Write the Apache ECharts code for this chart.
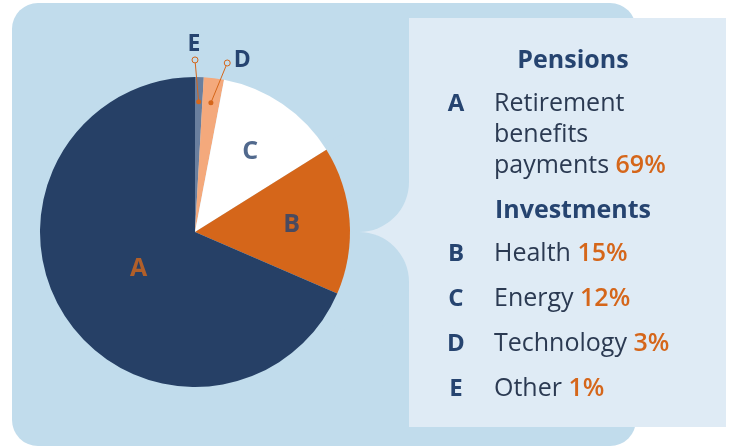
<!DOCTYPE html>
<html><head><meta charset="utf-8">
<script src="https://cdn.jsdelivr.net/npm/echarts@6/dist/echarts.min.js"></script>
<style>html,body{margin:0;padding:0;background:#fff}#c{width:731px;height:446px}</style>
</head><body><div id="c"></div>
<script>
// ---- data ----
const letters = ['A', 'B', 'C', 'D', 'E'];
const names = ['Retirement\nbenefits\npayments', 'Health', 'Energy', 'Technology', 'Other'];
const percentLabels = ['69%', '15%', '12%', '3%', '1%'];
const sliceValues = [68.5, 15.4, 13.1, 2.1, 0.9];   // slice sizes as drawn
const groupTitles = ['Pensions', 'Investments'];

// ---- styles ----
const NAVY = '#264470', TEXT = '#2b3a52', ORANGE = '#d5661a';
const BG = '#c1dcec', PANEL = '#dfebf5';
const sliceColors = ['#264066', '#d5661a', '#ffffff', '#f4a97c', '#6a7f9e'];
const letterColorsInPie = [ORANGE, NAVY, NAVY, NAVY, NAVY];
const FONT = '"Open Sans", "DejaVu Sans", sans-serif';
const CENTER = [195, 232], R = 155;

// clockwise from 12 o'clock: E, D, C, B, A
const order = [4, 3, 2, 1, 0];
let acc = 0; const startOf = [], endOf = [];
order.forEach(i => { startOf[i] = acc; acc += sliceValues[i]; endOf[i] = acc; });
const total = acc;
const mid = i => (startOf[i] + endOf[i]) / 2;

// inside labels (A,B,C) radius as fraction of pie radius
const insideLabelR = [0.435, 0.625, 0.63];
// leader lines for D, E
const leaderInner = 0.84, leaderOuter = 1.11;
const leaderEnd = { 3: i => endOf[i], 4: i => startOf[i] };

const series = [{
  type: 'pie', center: CENTER, radius: R, startAngle: 90, clockwise: true,
  silent: true, animation: false, z: 2,
  label: { show: false }, labelLine: { show: false },
  itemStyle: { borderWidth: 0 },
  data: order.map(i => ({ name: letters[i], value: sliceValues[i], itemStyle: { color: sliceColors[i] } }))
}, {
  type: 'scatter', coordinateSystem: 'polar', symbolSize: 0, silent: true, animation: false, z: 5,
  label: { show: true, position: 'inside', fontFamily: FONT, fontWeight: 'bold', fontSize: 25 },
  data: [0, 1, 2].map(i => ({
    name: letters[i], value: [insideLabelR[i], mid(i)],
    label: { formatter: letters[i], color: letterColorsInPie[i] }
  }))
}];
[4, 3].forEach(i => {
  series.push({
    type: 'line', coordinateSystem: 'polar', silent: true, animation: false, z: 4,
    lineStyle: { color: ORANGE, width: 1 },
    showSymbol: true,
    label: { fontFamily: FONT, fontWeight: 'bold', fontSize: 23, color: NAVY },
    data: [
      { value: [leaderInner, mid(i)], symbol: 'circle', symbolSize: 5, itemStyle: { color: ORANGE } },
      { value: [leaderOuter, leaderEnd[i](i)], symbol: 'circle', symbolSize: 6,
        itemStyle: { color: BG, borderColor: ORANGE, borderWidth: 1 },
        label: { show: true, formatter: letters[i], position: i === 4 ? 'top' : 'right',
          distance: i === 4 ? 0 : 3, offset: i === 4 ? [-1, 0] : [0, -3] } }
    ]
  });
});

// ---- legend panel (graphic) ----
const els = [
  { type: 'rect', z: -10, silent: true, shape: { x: 12, y: 3, width: 624, height: 443, r: 26 }, style: { fill: BG } },
  { type: 'rect', z: -9, silent: true, shape: { x: 409, y: 18, width: 317, height: 409 }, style: { fill: PANEL } },
  { type: 'rect', z: -9, silent: true, shape: { x: 359, y: 182, width: 51, height: 100 }, style: { fill: PANEL } },
  { type: 'circle', z: -8, silent: true, shape: { cx: 359, cy: 182, r: 50 }, style: { fill: BG } },
  { type: 'circle', z: -8, silent: true, shape: { cx: 359, cy: 282, r: 50 }, style: { fill: BG } }
];
const headY = [61, 211];
groupTitles.forEach((t, k) => els.push({ type: 'text', z: 10, x: 573, y: headY[k],
  style: { text: t, fill: NAVY, fontFamily: FONT, fontWeight: 'bold', fontSize: 25, align: 'center', verticalAlign: 'middle' } }));
const rowY = [104, 254, 299, 344, 389];
const rich = {
  n: { fill: TEXT, fontFamily: FONT, fontSize: 25, lineHeight: 31 },
  p: { fill: ORANGE, fontFamily: FONT, fontSize: 25, fontWeight: 600, lineHeight: 31 }
};
letters.forEach((l, i) => {
  els.push({ type: 'text', z: 10, x: 456, y: rowY[i],
    style: { text: l, fill: NAVY, fontFamily: FONT, fontWeight: 'bold', fontSize: 24, align: 'center', verticalAlign: 'middle' } });
  const lines = names[i].split('\n');
  const txt = lines.map((s, j) => '{n|' + s + '}' + (j === lines.length - 1 ? ' {p|' + percentLabels[i] + '}' : '')).join('\n');
  els.push({ type: 'text', z: 10, x: 494, y: rowY[i] - 15.5,
    style: { text: txt, rich: rich, fontFamily: FONT, fontSize: 25, lineHeight: 31, align: 'left', verticalAlign: 'top' } });
});

const chart = echarts.init(document.getElementById('c'), null, { renderer: 'canvas' });
chart.setOption({
  animation: false,
  backgroundColor: '#ffffff',
  polar: { center: CENTER, radius: R * 1.2 },
  angleAxis: { type: 'value', min: 0, max: total, startAngle: 90, clockwise: true, show: false },
  radiusAxis: { type: 'value', min: 0, max: 1.2, show: false },
  graphic: { elements: els },
  series: series
});
</script></body></html>
